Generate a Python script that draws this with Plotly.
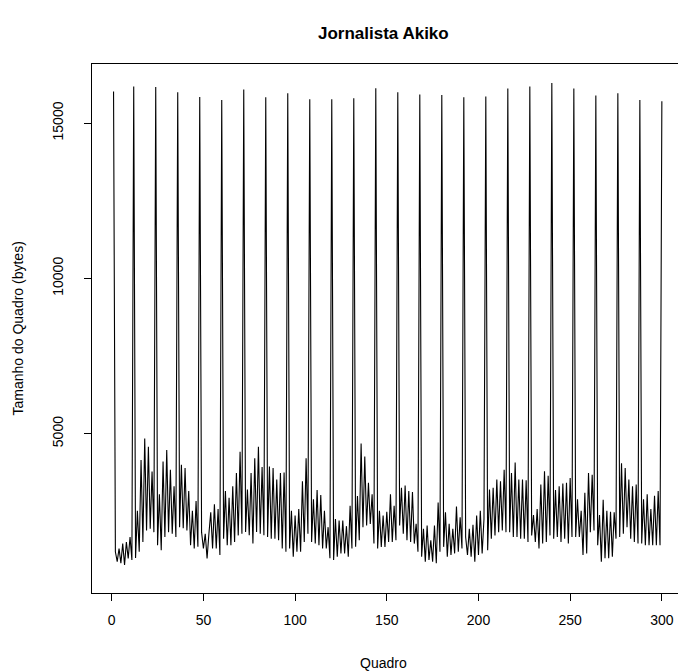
import plotly.graph_objects as go

# I-frame sizes (frames 1, 12, 24, ..., 300)
i_frames = [16020, 16178, 16166, 15997, 15839, 15744, 16083, 15829, 15965,
            15765, 15765, 15797, 16124, 15997, 15923, 15902, 15829, 15860,
            16114, 16178, 16293, 16114, 15892, 15965, 15744, 15702]

# frames 2-11
gop0 = [1198, 880, 1303, 830, 1460, 776, 1514, 986, 1672, 933]

# P/B frames between consecutive I-frames (11 each)
gops = [
    [1000, 2519, 1198, 4155, 1514, 4842, 1884, 4578, 1936, 3785, 1830],
    [1409, 3046, 1250, 4103, 1672, 4473, 1830, 3838, 1778, 3310, 1672],
    [1989, 3997, 1957, 3891, 1884, 3152, 1409, 2519, 1303, 2835, 1356],
    [1830, 1303, 1778, 986, 1778, 2466, 1303, 2730, 1303, 2571, 1092],
    [1620, 3152, 1409, 2940, 1409, 3310, 1514, 3733, 1725, 4420, 1778],
    [1832, 3204, 1727, 3733, 1461, 4208, 1832, 4579, 1780, 3923, 1727],
    [1673, 3945, 1620, 3891, 1620, 3520, 1567, 3733, 1303, 3750, 1198],
    [1303, 2519, 1040, 2361, 1198, 2571, 1198, 3470, 1514, 4208, 1778],
    [1514, 2887, 1461, 3185, 1409, 3026, 1303, 2519, 1303, 1990, 986],
    [933, 2253, 1040, 2202, 1145, 2202, 1145, 2022, 1040, 2678, 1303],
    [1356, 2994, 1567, 4684, 1990, 4262, 2044, 3416, 2096, 3046, 1461],
    [1303, 2519, 1356, 2361, 1356, 2487, 1514, 3046, 1514, 2678, 1567],
    [2044, 3258, 1778, 3331, 1567, 3153, 1514, 3121, 1461, 2096, 1198],
    [1040, 1936, 880, 2044, 933, 1567, 880, 2044, 828, 2782, 1198],
    [1356, 2466, 1040, 2096, 1092, 1936, 1145, 2656, 1198, 2307, 1303],
    [1673, 1092, 1936, 1040, 2064, 880, 2361, 1092, 2519, 1145, 2253],
    [1250, 3205, 1620, 3258, 1725, 3520, 1830, 3469, 1884, 3839, 1830],
    [1830, 3733, 1673, 4073, 1673, 3520, 1620, 3520, 1620, 3500, 1514],
    [1725, 2380, 1514, 2571, 1303, 3363, 1461, 3786, 1514, 3648, 1725],
    [1620, 3185, 1673, 3310, 1514, 3395, 1620, 3416, 1461, 3575, 1673],
    [1673, 2887, 1673, 2519, 1092, 3099, 1145, 3733, 1830, 3680, 1884],
    [1409, 2380, 880, 2868, 986, 2519, 986, 2487, 1040, 2466, 1620],
    [1673, 4050, 1778, 3891, 1990, 3520, 1620, 3310, 1514, 3363, 1461],
    [1461, 2887, 1409, 3046, 1409, 2571, 1409, 3000, 1409, 3152, 1409],
]

frame_sizes = [i_frames[0]] + gop0
for k, g in enumerate(gops):
    frame_sizes += [i_frames[k + 1]] + g
frame_sizes += [i_frames[-1]]
frames = list(range(1, len(frame_sizes) + 1))

x_ticks = [0, 50, 100, 150, 200, 250, 300]
y_ticks = [5000, 10000, 15000]
y_tick_text = ["5000", "10000", "15000"]

FONT = "Liberation Sans, Arial, Helvetica, sans-serif"

fig = go.Figure()
fig.add_trace(go.Scatter(x=frames, y=frame_sizes, mode="lines",
                         line=dict(color="black", width=1.1),
                         showlegend=False, hoverinfo="skip"))

fig.update_layout(
    width=678, height=672,
    margin=dict(l=92, r=0, t=64, b=79),
    paper_bgcolor="white", plot_bgcolor="white",
    font=dict(family=FONT, size=14, color="black"),
    xaxis=dict(range=[-10.75, 308.8], tickvals=x_ticks, ticks="outside",
               ticklen=7, tickcolor="black", showgrid=False, zeroline=False,
               showline=True, linecolor="black", linewidth=1, mirror=True,
               ticklabelstandoff=7, tickfont=dict(size=14)),
    yaxis=dict(range=[-130, 16903], tickvals=y_ticks, ticktext=y_tick_text,
               ticks="outside",
               ticklen=7, tickcolor="black", showgrid=False, zeroline=False,
               showline=True, linecolor="black", linewidth=1,
               tickangle=-90, ticklabelstandoff=15, tickfont=dict(size=14)),
    annotations=[
        dict(text="<b>Jornalista Akiko</b>", xref="paper", yref="paper",
             x=0.498, y=1, yshift=31, xanchor="center", yanchor="middle",
             showarrow=False, font=dict(size=17, family=FONT)),
        dict(text="Quadro", xref="paper", yref="paper", x=0.498, y=0,
             yshift=-70, xanchor="center", yanchor="middle",
             showarrow=False, font=dict(size=14, family=FONT)),
        dict(text="Tamanho do Quadro (bytes)", xref="paper", yref="paper",
             x=0, xshift=-75, y=0.5, xanchor="center", yanchor="middle",
             textangle=-90, showarrow=False,
             font=dict(size=14, family=FONT)),
    ],
)

fig.write_html("out.html")
